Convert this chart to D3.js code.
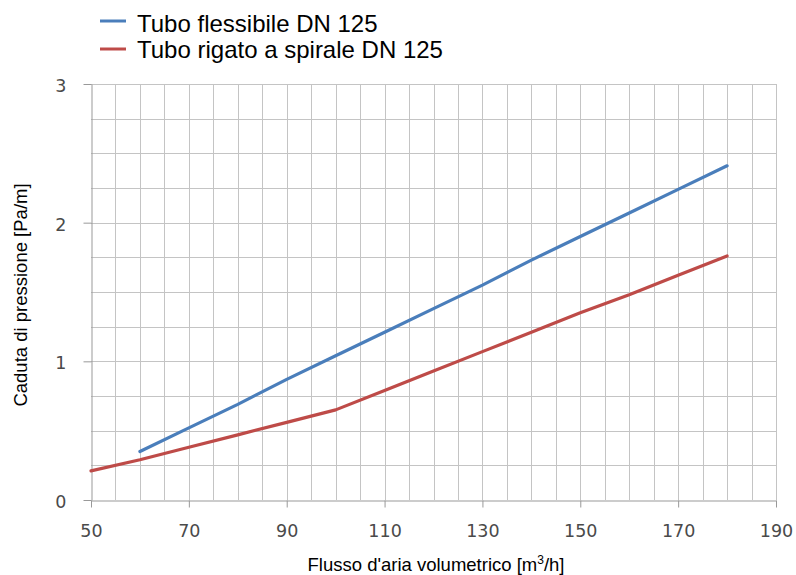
<!DOCTYPE html>
<html>
<head>
<meta charset="utf-8">
<script src="https://cdn.jsdelivr.net/npm/d3@7"></script>
<style>
  html, body { margin: 0; padding: 0; background: #fff; }
  svg { display: block; }
</style>
</head>
<body>
<svg id="chart" width="796" height="575"></svg>
<script>
// Volumetric air flow [m3/h]
const flowFlex = [60, 70, 80, 90, 100, 110, 120, 130, 140, 150, 160, 170, 180];
const dropFlex = [0.35, 0.52, 0.69, 0.87, 1.04, 1.21, 1.38, 1.55, 1.73, 1.90, 2.07, 2.24, 2.41];

const flowSpiral = [50, 60, 70, 80, 90, 100, 110, 120, 130, 140, 150, 160, 170, 180];
const dropSpiral = [0.21, 0.29, 0.38, 0.47, 0.56, 0.65, 0.79, 0.93, 1.07, 1.21, 1.35, 1.48, 1.62, 1.76];

const seriesNames = ["Tubo flessibile DN 125", "Tubo rigato a spirale DN 125"];
const seriesColors = ["#4a7ebb", "#be4b48"];

const xTicks = [50, 70, 90, 110, 130, 150, 170, 190];
const yTicks = [0, 1, 2, 3];

const svg = d3.select("#chart");
const plotLeft = 91, plotRight = 776, plotTop = 84, plotBottom = 500;

const x = d3.scaleLinear().domain([50, 190]).range([plotLeft, plotRight]);
const y = d3.scaleLinear().domain([0, 3]).range([plotBottom, plotTop]);

// grid
const grid = svg.append("g").attr("stroke", "#c4c4c4").attr("stroke-width", 1);
grid.selectAll("line.v").data(d3.range(55, 191, 5)).join("line")
  .attr("x1", d => Math.round(x(d)) + 0.5).attr("x2", d => Math.round(x(d)) + 0.5)
  .attr("y1", plotTop).attr("y2", plotBottom);
grid.selectAll("line.h").data(d3.range(0.25, 3.01, 0.25)).join("line")
  .attr("y1", d => Math.round(y(d)) + 0.5).attr("y2", d => Math.round(y(d)) + 0.5)
  .attr("x1", plotLeft).attr("x2", plotRight);

// axes
const xAxis = d3.axisBottom(x).tickValues(xTicks).tickFormat(d3.format("d"))
  .tickSize(7).tickSizeOuter(0).tickPadding(17);
const yAxis = d3.axisLeft(y).tickValues(yTicks).tickFormat(d3.format("d"))
  .tickSize(8).tickSizeOuter(0).tickPadding(17);

const gx = svg.append("g").attr("transform", `translate(0,${plotBottom + 0.5})`).call(xAxis);
const gy = svg.append("g").attr("transform", `translate(${plotLeft + 0.5},0)`).call(yAxis);
[gx, gy].forEach(g => {
  g.selectAll("path, line").attr("stroke", "#999");
  g.selectAll("text").attr("font-family", "'DejaVu Sans', Verdana, sans-serif")
    .attr("font-size", 17.5).attr("fill", "#4a4a4a");
});
gy.selectAll("text").attr("dy", "0.42em");

// lines
const line = d3.line().x(d => x(d[0])).y(d => y(d[1]));
const seriesData = [
  d3.zip(flowFlex, dropFlex),
  d3.zip(flowSpiral, dropSpiral)
];
seriesData.forEach((pts, i) => {
  svg.append("path").datum(pts)
    .attr("fill", "none")
    .attr("stroke", seriesColors[i])
    .attr("stroke-width", 3.2)
    .attr("stroke-linejoin", "round")
    .attr("stroke-linecap", "round")
    .attr("d", line);
});

// legend
const legend = svg.append("g");
const legendRowY = [21, 49];
const legendTextY = [32, 58];
seriesNames.forEach((name, i) => {
  legend.append("line")
    .attr("x1", 100).attr("x2", 126).attr("y1", legendRowY[i]).attr("y2", legendRowY[i])
    .attr("stroke", seriesColors[i]).attr("stroke-width", 3);
  legend.append("text")
    .attr("x", 137).attr("y", legendTextY[i])
    .attr("font-family", "'Liberation Sans', Arial, sans-serif")
    .attr("font-size", 24).attr("fill", "#000")
    .text(name);
});

// axis titles
const xt = svg.append("text")
  .attr("x", (307 + 565) / 2).attr("y", 571)
  .attr("text-anchor", "middle")
  .attr("font-family", "'Liberation Sans', Arial, sans-serif")
  .attr("font-size", 18.5).attr("fill", "#000");
xt.append("tspan").text("Flusso d'aria volumetrico [m");
xt.append("tspan").attr("font-size", 12).attr("dy", -7).text("3");
xt.append("tspan").attr("dy", 7).text("/h]");

svg.append("text")
  .attr("transform", "translate(27,295) rotate(-90)")
  .attr("text-anchor", "middle")
  .attr("font-family", "'Liberation Sans', Arial, sans-serif")
  .attr("font-size", 18.5).attr("fill", "#000")
  .text("Caduta di pressione [Pa/m]");
</script>
</body>
</html>
